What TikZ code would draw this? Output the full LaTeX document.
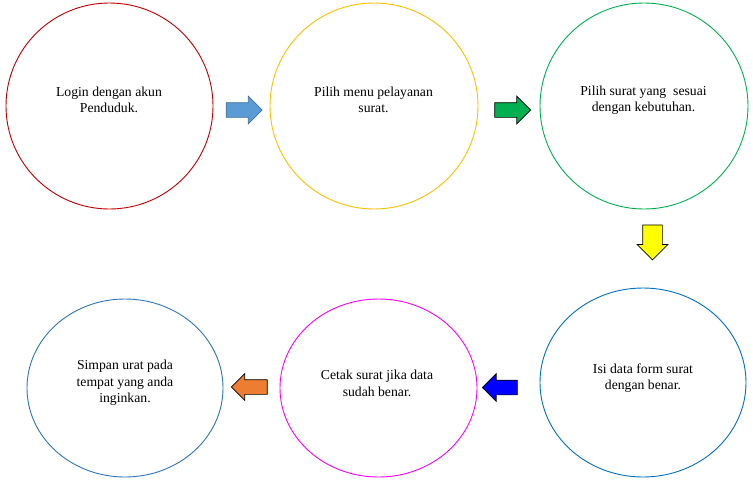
\documentclass[tikz,border=0pt]{standalone}
\usepackage{fontspec}
\setmainfont{Liberation Serif}
\usetikzlibrary{shapes.geometric,shapes.arrows}
\definecolor{merah}{HTML}{C00000}
\definecolor{kuning}{HTML}{FFC000}
\definecolor{hijau}{HTML}{00B050}
\definecolor{biru}{HTML}{0070C0}
\definecolor{birutua}{HTML}{2E75B6}
\definecolor{birumuda}{HTML}{5B9BD5}
\definecolor{birugaris}{HTML}{41719C}
\definecolor{oranye}{HTML}{ED7D31}
\definecolor{ungu}{HTML}{FF00FF}
\definecolor{kuningcerah}{HTML}{FFFF00}
\definecolor{birucerah}{HTML}{0000FF}
\tikzset{
  lingkaran/.style={ellipse, draw, line width=0.9pt, inner sep=0pt},
  teks/.style={align=center, font=\fontsize{13.7}{16.5}\selectfont, inner sep=0pt},
  panah/.style={single arrow, draw=black, line width=0.7pt, inner xsep=0pt, inner ysep=7pt,
    single arrow head extend=6.5pt, minimum height=36pt}
}
\begin{document}
\begin{tikzpicture}[x=1pt,y=-1pt]
    % Batas gambar
    \useasboundingbox (0,0) rectangle (753,483);
    % Lingkaran langkah
    \node [lingkaran, draw=merah, minimum width=207pt, minimum height=206pt] (c1) at (109.5,106) {};
    \node [lingkaran, draw=kuning, minimum width=208pt, minimum height=206pt] (c2) at (374,106) {};
    \node [lingkaran, draw=hijau, minimum width=208pt, minimum height=206pt] (c3) at (644,106) {};
    \node [lingkaran, draw=biru, minimum width=206pt, minimum height=189pt] (c4) at (643,382.5) {};
    \node [lingkaran, draw=ungu, minimum width=197pt, minimum height=178pt] (c5) at (378.5,388) {};
    \node [lingkaran, draw=birutua, minimum width=196pt, minimum height=178pt] (c6) at (125,388) {};
    % Teks langkah
    \node [teks] (t1) at (109,100) {Login dengan akun\\Penduduk.};
    \node [teks] (t2) at (373.5,100) {Pilih menu pelayanan\\surat.};
    \node [teks] (t3) at (643.5,100) {Pilih surat yang \ sesuai\\dengan kebutuhan.};
    \node [teks] (t4) at (643,378) {Isi data form surat\\dengan benar.};
    \node [teks] (t5) at (377,383.5) {Cetak surat jika data\\sudah benar.};
    \node [teks] (t6) at (125,383) {Simpan urat pada\\tempat yang anda\\inginkan.};
    % Panah blok
    \node [panah, fill=birumuda, draw=birugaris] (a1) at (240.5,110) {};
    \node [panah, fill=hijau] (a2) at (509,110) {};
    \node [panah, fill=kuningcerah, shape border rotate=270, inner ysep=0pt, inner xsep=9.5pt,
      single arrow head extend=5.5pt, minimum height=35pt] (a3) at (652.5,237.5) {};
    \node [panah, fill=birucerah, shape border rotate=180, minimum height=35pt] (a4) at (503.5,387.5) {};
    \node [panah, fill=oranye, shape border rotate=180, single arrow head extend=6pt] (a5) at (253,387) {};
\end{tikzpicture}
\end{document}
